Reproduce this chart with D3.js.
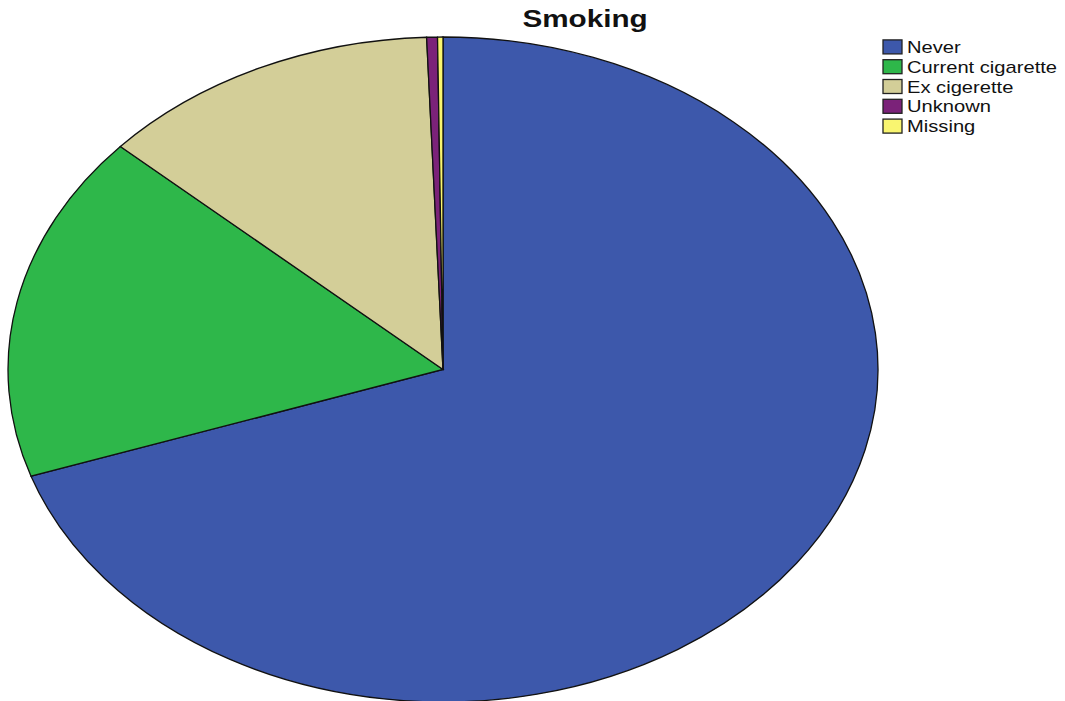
<!DOCTYPE html>
<html><head><meta charset="utf-8">
<script src="https://cdn.jsdelivr.net/npm/d3@7"></script>
<style>body{margin:0;background:#fff;}svg{display:block;}</style>
</head><body>
<script>
const categories = ["Never", "Current cigarette", "Ex cigerette", "Unknown", "Missing"];
const values = [69.8, 16.9, 12.7, 0.4, 0.2];
const colors = ["#3d58ab", "#2eb74a", "#d3ce98", "#7b2279", "#f9f570"];
const title = "Smoking";

const W = 1065, H = 701;
const svg = d3.select("body").append("svg").attr("width", W).attr("height", H);
const cx = 443, cy = 369.5, rx = 435, ry = 332.5;
const R = 100;
const pie = d3.pie().sort(null).value(d => d)(values);
const arc = d3.arc().innerRadius(0).outerRadius(R);
const g = svg.append("g").attr("transform", `translate(${cx},${cy}) scale(${rx/R},${ry/R})`);
g.selectAll("path").data(pie).join("path")
  .attr("d", arc)
  .attr("fill", (d,i) => colors[i])
  .attr("stroke", "#111")
  .attr("stroke-width", 1.3)
  .attr("vector-effect", "non-scaling-stroke");

svg.append("text").attr("transform", "translate(585,27) scale(1.29,1)").attr("text-anchor", "middle")
  .attr("font-family", "Liberation Sans, Arial, sans-serif").attr("font-weight", "bold")
  .attr("font-size", 23).attr("fill", "#111").text(title);

const y = d3.scaleBand().domain(categories).range([37, 136]);
const lg = svg.append("g");
const rows = lg.selectAll("g").data(categories).join("g")
  .attr("transform", d => `translate(883,${y(d) + y.bandwidth()/2})`);
rows.append("rect").attr("x", 0).attr("y", -7).attr("width", 19).attr("height", 14)
  .attr("fill", (d,i) => colors[i]).attr("stroke", "#222").attr("stroke-width", 1.3);
rows.append("text").attr("transform", "translate(24,6) scale(1.26,1)")
  .attr("font-family", "Liberation Sans, Arial, sans-serif").attr("font-size", 16)
  .attr("fill", "#111").text(d => d);
</script>
</body></html>
